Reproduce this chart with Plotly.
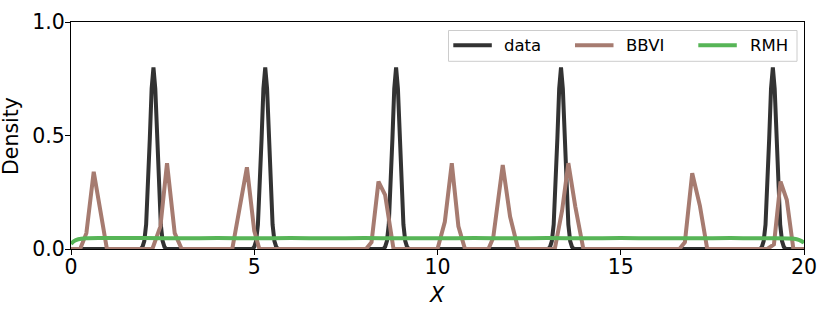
import plotly.graph_objects as go

# ---- data ----
data_x = [0.0,
          1.90, 1.95, 2.00, 2.05, 2.10, 2.15, 2.20, 2.25, 2.30, 2.35, 2.40, 2.45, 2.50, 2.55, 2.60,
          4.95, 5.00, 5.05, 5.10, 5.15, 5.20, 5.25, 5.30, 5.35, 5.40, 5.45, 5.50, 5.55, 5.60, 5.65,
          8.52, 8.57, 8.62, 8.67, 8.72, 8.77, 8.82, 8.87, 8.92, 8.97, 9.02, 9.07, 9.12, 9.17, 9.22,
          13.02, 13.07, 13.12, 13.17, 13.22, 13.27, 13.32, 13.37, 13.42, 13.47, 13.52, 13.57, 13.62, 13.67, 13.72,
          18.80, 18.85, 18.90, 18.95, 19.00, 19.05, 19.10, 19.15, 19.20, 19.25, 19.30, 19.35, 19.40, 19.45, 19.50,
          20.0]
data_y = [0.0,
          0.0, 0.009, 0.035, 0.108, 0.26, 0.485, 0.706, 0.80, 0.706, 0.485, 0.26, 0.108, 0.035, 0.009, 0.0,
          0.0, 0.009, 0.035, 0.108, 0.26, 0.485, 0.706, 0.80, 0.706, 0.485, 0.26, 0.108, 0.035, 0.009, 0.0,
          0.0, 0.009, 0.035, 0.108, 0.26, 0.485, 0.706, 0.80, 0.706, 0.485, 0.26, 0.108, 0.035, 0.009, 0.0,
          0.0, 0.009, 0.035, 0.108, 0.26, 0.485, 0.706, 0.80, 0.706, 0.485, 0.26, 0.108, 0.035, 0.009, 0.0,
          0.0, 0.009, 0.035, 0.108, 0.26, 0.485, 0.706, 0.80, 0.706, 0.485, 0.26, 0.108, 0.035, 0.009, 0.0,
          0.0]

bbvi_x = [0.0, 0.25, 0.42, 0.62, 0.80, 0.98,
          2.22, 2.44, 2.62, 2.83, 3.02,
          4.40, 4.60, 4.80, 5.00, 5.14,
          8.05, 8.20, 8.39, 8.57, 8.80,
          10.00, 10.20, 10.39, 10.57, 10.75,
          11.39, 11.52, 11.78, 11.98, 12.20,
          13.20, 13.40, 13.57, 13.76, 13.98,
          16.60, 16.75, 16.95, 17.16, 17.36,
          19.00, 19.18, 19.36, 19.53, 19.71, 20.0]
bbvi_y = [0.0, 0.0, 0.07, 0.34, 0.17, 0.0,
          0.0, 0.10, 0.378, 0.07, 0.0,
          0.0, 0.18, 0.36, 0.08, 0.0,
          0.0, 0.03, 0.297, 0.239, 0.0,
          0.0, 0.12, 0.378, 0.10, 0.0,
          0.0, 0.05, 0.37, 0.143, 0.0,
          0.0, 0.17, 0.378, 0.187, 0.0,
          0.0, 0.03, 0.334, 0.19, 0.0,
          0.0, 0.02, 0.297, 0.217, 0.0, 0.0]

rmh_x = [0.0, 0.08, 0.2, 0.4, 1.0, 2.0, 3.0, 4.0, 5.0, 6.0, 7.0, 8.0, 9.0, 10.0,
         11.0, 12.0, 13.0, 14.0, 15.0, 16.0, 17.0, 18.0, 19.0, 19.6, 19.8, 19.92, 20.0]
rmh_y = [0.022, 0.035, 0.043, 0.047, 0.048, 0.048, 0.047, 0.048, 0.047, 0.048, 0.047, 0.048, 0.047, 0.047,
         0.048, 0.047, 0.048, 0.047, 0.048, 0.047, 0.047, 0.048, 0.047, 0.046, 0.043, 0.036, 0.028]

series_names = ["data", "BBVI", "RMH"]
series_colors = ["#333333", "#a67b70", "#57b557"]

x_ticks = [0, 5, 10, 15, 20]
y_ticks = [0.0, 0.5, 1.0]
y_tick_labels = ["0.0", "0.5", "1.0"]

FONT = "DejaVu Sans"

# ---- layout geometry (body margin removed by post_script, figure fills window) ----
FIG_W, FIG_H = 830, 312
ML, MR, MT, MB = 71, 26, 22, 63
PW = FIG_W - ML - MR
PH = FIG_H - MT - MB


def px(X):  # window px -> paper x
    return (X - ML) / PW


def py(Y):  # window px -> paper y
    return (FIG_H - MB - Y) / PH


fig = go.Figure()
series = [(data_x, data_y, "linear"), (bbvi_x, bbvi_y, "linear"), (rmh_x, rmh_y, "spline")]
for (xs, ys, shp), name, col in zip(series, series_names, series_colors):
    fig.add_trace(go.Scatter(x=xs, y=ys, mode="lines", name=name, showlegend=False,
                             line=dict(color=col, width=4, shape=shp)))

# ---- legend drawn by hand (matplotlib-like framed legend) ----
shapes = [dict(type="rect", xref="paper", yref="paper",
               x0=px(448.5), x1=px(797), y0=py(61.3), y1=py(30.5),
               line=dict(color="#cccccc", width=1), fillcolor="rgba(255,255,255,0.8)", layer="above")]
annotations = []
leg_line_x = [453.3, 575.0, 698.3]
leg_text_x = [503.0, 624.5, 748.5]
LEG_Y = 45.3
for name, col, lx, tx in zip(series_names, series_colors, leg_line_x, leg_text_x):
    shapes.append(dict(type="line", xref="paper", yref="paper", x0=px(lx), x1=px(lx + 38.5),
                       y0=py(LEG_Y), y1=py(LEG_Y), line=dict(color=col, width=4), layer="above"))
    annotations.append(dict(text=name, xref="paper", yref="paper", x=px(tx - 1), y=py(LEG_Y),
                            xanchor="left", yanchor="middle", showarrow=False,
                            font=dict(family=FONT, size=16.5, color="black")))

annotations += [
    dict(text="Density", xref="paper", yref="paper", x=px(11), y=py(136), xanchor="center",
         yanchor="middle", textangle=-90, showarrow=False, font=dict(size=20.5)),
    dict(text="<i>X</i>", xref="paper", yref="paper", x=px(437), y=py(295), xanchor="center",
         yanchor="middle", showarrow=False, font=dict(size=21)),
]

fig.update_layout(
    width=FIG_W, height=FIG_H, autosize=False,
    margin=dict(l=ML, r=MR, t=MT, b=MB, pad=0, autoexpand=False),
    paper_bgcolor="white", plot_bgcolor="white",
    font=dict(family=FONT, size=21, color="black"),
    showlegend=False,
    xaxis=dict(range=[0, 20], tickvals=x_ticks, ticktext=[str(v) for v in x_ticks],
               showgrid=False, zeroline=False, showline=True, linecolor="black", linewidth=1,
               mirror=True, ticks="outside", ticklen=5, tickwidth=1, tickcolor="black",
               tickfont=dict(size=20.5), ticklabelstandoff=-6, automargin=False),
    yaxis=dict(range=[0, 1], tickvals=y_ticks, ticktext=y_tick_labels,
               showgrid=False, zeroline=False, showline=True, linecolor="black", linewidth=1,
               mirror=True, ticks="outside", ticklen=5, tickwidth=1, tickcolor="black",
               tickfont=dict(size=20.5), ticklabelstandoff=-4, automargin=False),
    shapes=shapes,
    annotations=annotations,
)

fig.write_html("out.html",
               config={"displayModeBar": False, "staticPlot": True},
               post_script="document.body.style.margin='0px';document.body.style.padding='0px';")
